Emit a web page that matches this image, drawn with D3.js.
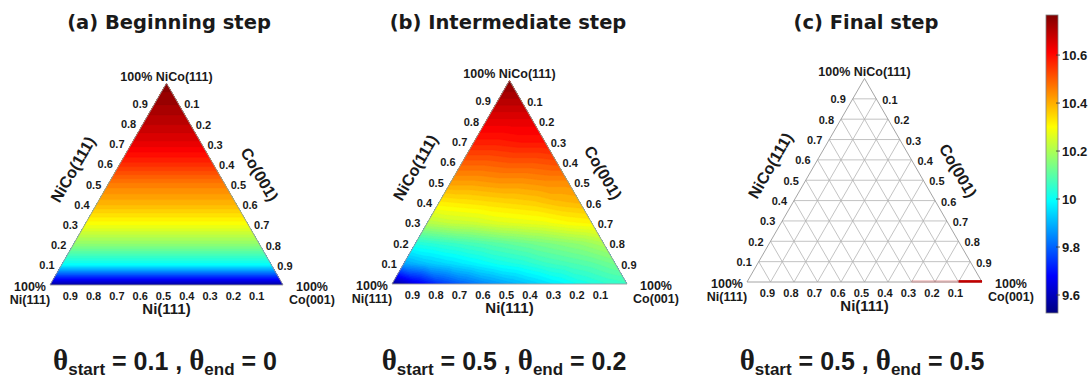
<!DOCTYPE html>
<html>
<head>
<meta charset="utf-8">
<script src="https://cdn.jsdelivr.net/npm/d3@7"></script>
<style>
  body { margin: 0; background: #fff; }
  svg { display: block; }
  text { font-family: "Liberation Sans", Arial, sans-serif; font-weight: bold; fill: #1a1a1a; }
</style>
</head>
<body>
<svg id="chart" width="1091" height="380"></svg>
<script>
// ---- data -------------------------------------------------------------
const panelTitles = ["(a) Beginning step", "(b) Intermediate step", "(c) Final step"];
const thetaStart = ["0.1", "0.5", "0.5"];
const thetaEnd = ["0", "0.2", "0.5"];
const cornerNames = { left: "Ni(111)", top: "NiCo(111)", right: "Co(001)" };
const fractionTicks = [0.1, 0.2, 0.3, 0.4, 0.5, 0.6, 0.7, 0.8, 0.9];
const colorbarTicks = [9.6, 9.8, 10, 10.2, 10.4, 10.6];
const colorDomain = [9.525, 10.767];

// (a) value for NiCo fraction 0, 0.1, ... 1 (constant along each row)
const beginningByNiCo = [9.56, 9.99, 10.16, 10.29, 10.39, 10.46, 10.56, 10.64, 10.69, 10.73, 10.76];

// (b) rows by NiCo fraction (0 .. 1), columns by Co fraction (0 .. 1 - NiCo)
const intermediateRows = [
  [9.55, 9.65, 9.74, 9.80, 9.85, 9.89, 9.93, 9.97, 10.01, 10.04, 10.06],
  [9.88, 9.92, 9.95, 9.98, 10.01, 10.03, 10.06, 10.08, 10.10, 10.13],
  [10.03, 10.05, 10.07, 10.09, 10.11, 10.13, 10.15, 10.17, 10.20],
  [10.21, 10.23, 10.24, 10.26, 10.27, 10.28, 10.30, 10.31],
  [10.32, 10.33, 10.34, 10.35, 10.36, 10.38, 10.39],
  [10.42, 10.42, 10.43, 10.43, 10.44, 10.44],
  [10.50, 10.50, 10.51, 10.51, 10.52],
  [10.58, 10.58, 10.59, 10.59],
  [10.64, 10.64, 10.64],
  [10.70, 10.70],
  [10.76]
];

// (c) the field has collapsed onto the Ni–Co edge: Co-fraction spans and their strength
const finalSpanFrom = [0.7, 0.9];
const finalSpanTo = [0.9, 1.0];
const finalSpanStrength = [0.18, 1.0];

// ---- helpers ----------------------------------------------------------
const svg = d3.select("#chart");
const clamp01 = v => Math.max(0, Math.min(1, v));
function jet(t) {
  t = clamp01(t);
  return d3.rgb(
    255 * clamp01(1.5 - Math.abs(4 * t - 3)),
    255 * clamp01(1.5 - Math.abs(4 * t - 2)),
    255 * clamp01(1.5 - Math.abs(4 * t - 1))
  ).formatHex();
}
const tScale = d3.scaleLinear().domain(colorDomain).range([0, 1]).clamp(true);
const colorOf = v => jet(tScale(v));

const panels = [
  { x0: 50, yb: 285, w: 233, titleX: 169 },
  { x0: 392, yb: 284, w: 235, titleX: 508 },
  { x0: 747, yb: 282, w: 235, titleX: 866 }
];
panels.forEach(p => { p.h = p.w * Math.sqrt(3) / 2; });

// ternary point: f = NiCo fraction, c = Co fraction
const pt = (p, f, c) => [p.x0 + c * p.w + f * p.w / 2, p.yb - f * p.h];

function fieldValue(table, f, c) {
  const F = f * 10, C = c * 10;
  const i = Math.floor(F);
  if (i >= 10) return table[10][0];
  const j = Math.floor(C);
  if (i + j >= 10) return table[i][10 - i];
  const u = F - i, w = C - j;
  if (u + w <= 1 || i + j >= 9) {
    return table[i][j] * (1 - u - w) + table[i + 1][j] * u + table[i][j + 1] * w;
  }
  return table[i + 1][j + 1] * (u + w - 1) + table[i + 1][j] * (1 - w) + table[i][j + 1] * (1 - u);
}

const levelCount = 62;
const levels = d3.range(levelCount).map(k => colorDomain[0] + k * (colorDomain[1] - colorDomain[0]) / levelCount);
const levelStep = (colorDomain[1] - colorDomain[0]) / levelCount;

function drawField(g, p, table, id) {
  const ytop = p.yb - p.h;
  const n = Math.ceil(p.w) + 2, m = Math.ceil(p.h) + 2;
  const values = new Float64Array(n * m);
  for (let r = 0; r < m; r++) {
    const py = ytop + r + 0.5 - 1;
    const f = clamp01((p.yb - py) / p.h);
    for (let q = 0; q < n; q++) {
      const px = p.x0 + q + 0.5 - 1;
      let c = (px - p.x0 - f * p.w / 2) / p.w;
      c = Math.max(0, Math.min(1 - f, c));
      values[r * n + q] = fieldValue(table, f, c);
    }
  }
  const tri = [pt(p, 0, 0), pt(p, 1, 0), pt(p, 0, 1)];
  svg.append("defs").append("clipPath").attr("id", id)
    .append("polygon").attr("points", tri.map(d => d.join(",")).join(" "));
  const layer = g.append("g").attr("clip-path", `url(#${id})`);
  layer.append("polygon").attr("points", tri.map(d => d.join(",")).join(" "))
    .attr("fill", colorOf(colorDomain[0]));
  const contours = d3.contours().size([n, m]).thresholds(levels)(values);
  layer.append("g").attr("transform", `translate(${p.x0 - 1},${ytop - 1})`)
    .selectAll("path").data(contours).join("path")
    .attr("d", d3.geoPath())
    .attr("fill", d => colorOf(d.value + levelStep / 2))
    .attr("stroke", d => colorOf(d.value + levelStep / 2))
    .attr("stroke-width", 0.3);
}

function drawFrame(g, p, withGrid) {
  if (withGrid) {
    const grid = g.append("g").attr("stroke", "#b4b4b4").attr("stroke-width", 0.8).attr("fill", "none");
    fractionTicks.forEach(v => {
      [[pt(p, v, 0), pt(p, v, 1 - v)], [pt(p, 0, v), pt(p, 1 - v, v)], [pt(p, 0, 1 - v), pt(p, 1 - v, 0)]]
        .forEach(([a, b]) => grid.append("line")
          .attr("x1", a[0]).attr("y1", a[1]).attr("x2", b[0]).attr("y2", b[1]));
    });
  }
  const tri = [pt(p, 0, 0), pt(p, 1, 0), pt(p, 0, 1)];
  g.append("polygon").attr("points", tri.map(d => d.join(",")).join(" "))
    .attr("fill", "none").attr("stroke", "#9a9a9a").attr("stroke-width", 0.9);
}

function drawLabels(g, p, i) {
  const tick = g.append("g").style("font-size", "11px");
  fractionTicks.forEach(v => {
    const L = pt(p, v, 0);
    tick.append("text").attr("x", L[0] - 7).attr("y", L[1] + 4.5).attr("text-anchor", "end").text(v);
    const R = pt(p, 1 - v, v);
    tick.append("text").attr("x", R[0] + 6).attr("y", R[1] + 5).attr("text-anchor", "start").text(v);
    const B = pt(p, 0, 1 - v);
    tick.append("text").attr("x", B[0] - 3).attr("y", p.yb + 15).attr("text-anchor", "middle").text(v);
  });
  const apex = pt(p, 1, 0);
  g.append("text").attr("x", apex[0]).attr("y", apex[1] - 2).attr("text-anchor", "middle")
    .style("font-size", "12.5px").text("100% " + cornerNames.top);
  [[p.x0 - 20, cornerNames.left], [p.x0 + p.w + 29, cornerNames.right]].forEach(([x, name]) => {
    const t = g.append("text").attr("text-anchor", "middle").style("font-size", "12.5px");
    t.append("tspan").attr("x", x).attr("y", p.yb + 6).text("100%");
    t.append("tspan").attr("x", x).attr("y", p.yb + 19).text(name);
  });
  // edge titles
  const s3 = Math.sqrt(3) / 2;
  const ml = pt(p, 0.5, 0), mr = pt(p, 0.5, 0.5);
  const lx = ml[0] + 38 * -s3 + (-5) * 0.5, ly = ml[1] + 38 * -0.5 + (-5) * -s3;
  g.append("text").attr("transform", `translate(${lx},${ly}) rotate(-60)`)
    .attr("text-anchor", "middle").attr("dy", "0.35em").style("font-size", "16px").text(cornerNames.top);
  const rx = mr[0] + 35 * s3 + 9 * 0.5, ry = mr[1] + 35 * -0.5 + 9 * s3;
  g.append("text").attr("transform", `translate(${rx},${ry}) rotate(60)`)
    .attr("text-anchor", "middle").attr("dy", "0.35em").style("font-size", "16px").text(cornerNames.right);
  g.append("text").attr("x", p.x0 + p.w / 2).attr("y", p.yb + 29).attr("text-anchor", "middle")
    .style("font-size", "15px").text(cornerNames.left);
  // title
  g.append("text").attr("x", p.titleX).attr("y", 29).attr("text-anchor", "middle")
    .style("font-family", "'DejaVu Sans', sans-serif").style("font-size", "19.5px")
    .text(panelTitles[i]);
  // coverage caption
  const cap = g.append("text").attr("x", p.titleX - 4).attr("y", 370).attr("text-anchor", "middle")
    .style("white-space", "pre").style("font-size", "25px");
  const theta = () => cap.append("tspan").style("font-family", "'Liberation Serif', serif").style("font-size", "29px").text("θ");
  theta();
  cap.append("tspan").attr("dy", 4.5).style("font-size", "17px").text("start");
  cap.append("tspan").attr("dy", -4.5).text(" = " + thetaStart[i] + " , ");
  theta();
  cap.append("tspan").attr("dy", 4.5).style("font-size", "17px").text("end");
  cap.append("tspan").attr("dy", -4.5).text(" = " + thetaEnd[i]);
}

// ---- panels -----------------------------------------------------------
const beginningTable = beginningByNiCo.map((v, r) => Array(11 - r).fill(v));

const gA = svg.append("g");
drawField(gA, panels[0], beginningTable, "clipA");
drawFrame(gA, panels[0], false);
drawLabels(gA, panels[0], 0);

const gB = svg.append("g");
drawField(gB, panels[1], intermediateRows, "clipB");
drawFrame(gB, panels[1], false);
drawLabels(gB, panels[1], 1);

const gC = svg.append("g");
drawFrame(gC, panels[2], true);
finalSpanFrom.forEach((from, k) => {
  const a = pt(panels[2], 0, from), b = pt(panels[2], 0, finalSpanTo[k]);
  gC.append("line").attr("x1", a[0]).attr("y1", a[1] - 0.6).attr("x2", b[0]).attr("y2", b[1] - 0.6)
    .attr("stroke", "#c00000").attr("stroke-opacity", finalSpanStrength[k])
    .attr("stroke-width", 2.6);
});
drawLabels(gC, panels[2], 2);

// ---- colorbar -----------------------------------------------------------
const cb = { x: 1046, y0: 15, y1: 313, w: 12 };
const cbScale = d3.scaleLinear().domain(colorDomain).range([cb.y1, cb.y0]);
const grad = svg.append("defs").append("linearGradient").attr("id", "jetGrad")
  .attr("x1", 0).attr("y1", 1).attr("x2", 0).attr("y2", 0);
d3.range(0, 1.0001, 1 / 16).forEach(t => grad.append("stop").attr("offset", t).attr("stop-color", jet(t)));
svg.append("rect").attr("x", cb.x).attr("y", cb.y0).attr("width", cb.w).attr("height", cb.y1 - cb.y0)
  .attr("fill", "url(#jetGrad)").attr("stroke", "#808080").attr("stroke-width", 0.8);
const cbAxis = svg.append("g").style("font-size", "13px");
colorbarTicks.forEach(v => {
  const y = cbScale(v);
  cbAxis.append("line").attr("x1", cb.x + cb.w - 2).attr("x2", cb.x + cb.w + 2)
    .attr("y1", y).attr("y2", y).attr("stroke", "#333").attr("stroke-width", 0.8);
  cbAxis.append("text").attr("x", cb.x + cb.w + 4).attr("y", y + 4.5).text(v);
});
</script>
</body>
</html>
